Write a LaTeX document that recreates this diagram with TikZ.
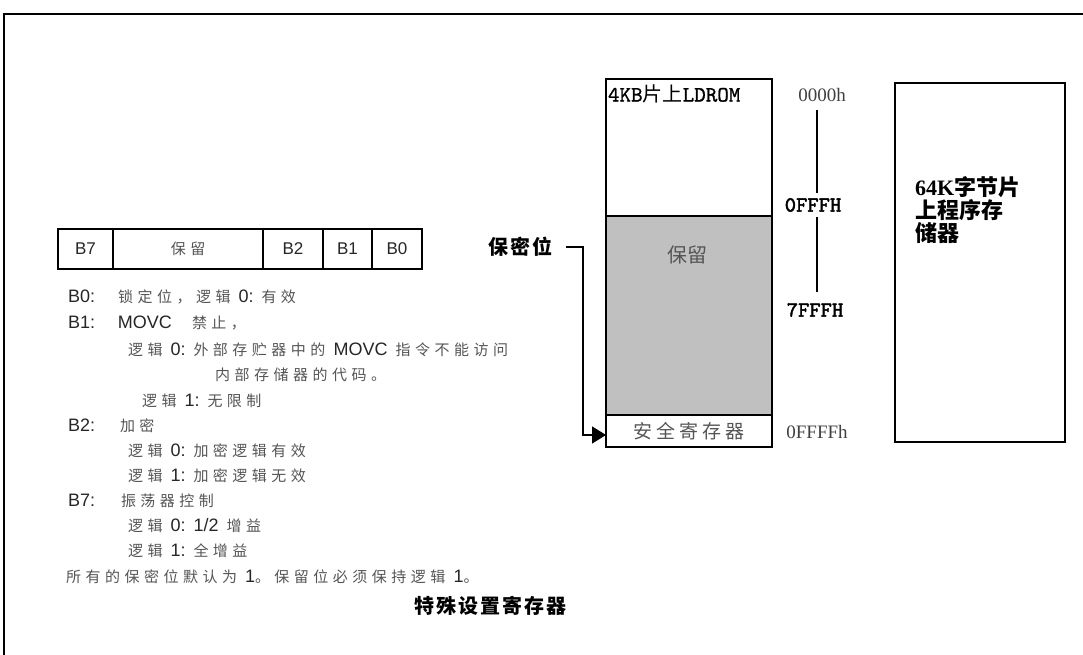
\documentclass[tikz,border=0pt]{standalone}
\usepackage{fontspec}
\setmainfont{Liberation Sans}
\newfontfamily\cjk[LetterSpace=30]{Noto Sans CJK SC}
\newfontfamily\cjkt{Noto Sans CJK SC}
\newfontfamily\cjkw[LetterSpace=10]{Noto Sans CJK SC}
\newfontfamily\cjks[LetterSpace=22]{Noto Sans CJK SC}
\newfontfamily\serf{Liberation Serif}
\newfontfamily\monob[FakeBold=2]{lmmono10-regular.otf}
\newfontfamily\monom[FakeBold=1]{lmmono10-regular.otf}
\usetikzlibrary{arrows.meta}
\definecolor{zhgray}{RGB}{85,85,85}
\definecolor{memgray}{RGB}{192,192,192}
\newcommand\zhc[1]{{\cjk\fontsize{15}{20}\selectfont\color{zhgray}#1}}
\newcommand\gap{\hspace{8pt}}
\begin{document}
\begin{tikzpicture}[x=1pt,y=-1pt,
  every node/.style={inner sep=0pt,outer sep=0pt},
  cell/.style={draw,line width=2.2pt,minimum height=40pt,anchor=north west,
    font=\fontsize{17}{17}\selectfont,text=black!85},
  item/.style={anchor=west,font=\fontsize{18}{20}\selectfont,text=black!85},
  mem/.style={draw,line width=1.5pt,anchor=north west},
  addrs/.style={font=\serf\fontsize{19}{19}\selectfont,text=black!75},
  addrm/.style={font=\monob\fontsize{21.5}{21.5}\selectfont,text=black},
  vline/.style={line width=1.5pt}]
\fill[white] (0,0) rectangle (1083,655);
\useasboundingbox (0,0) rectangle (1083,655);
% frame
\draw[line width=2pt] (1083,14) -- (4,14) -- (4,655);
% register
\node[cell,minimum width=55pt] (b7) at (58,229) {B7};
\node[cell,minimum width=150pt] (res) at (113,229) {\zhc{保留}};
\node[cell,minimum width=60pt] (b2) at (263,229) {B2};
\node[cell,minimum width=49pt] (b1) at (323,229) {B1};
\node[cell,minimum width=50pt] (b0) at (372,229) {B0};
% description
\node[item] (l1) at (68,297) {\makebox[50pt][l]{B0:}\zhc{锁定位，逻辑}\gap 0:\gap\zhc{有效}};
\node[item] (l2) at (68,323) {\makebox[50pt][l]{B1:}MOVC\hspace{20pt}\zhc{禁止，}};
\node[item] (l3) at (128,350) {\zhc{逻辑}\gap 0:\gap\zhc{外部存贮器中的}\gap MOVC\gap\zhc{指令不能访问}};
\node[item] (l4) at (215,375) {\zhc{内部存储器的代码。}};
\node[item] (l5) at (142,400.5) {\zhc{逻辑}\gap 1:\gap\zhc{无限制}};
\node[item] (l6) at (68,426) {\makebox[52pt][l]{B2:}\zhc{加密}};
\node[item] (l7) at (128,451) {\zhc{逻辑}\gap 0:\gap\zhc{加密逻辑有效}};
\node[item] (l8) at (128,476) {\zhc{逻辑}\gap 1:\gap\zhc{加密逻辑无效}};
\node[item] (l9) at (68,501) {\makebox[53pt][l]{B7:}\zhc{振荡器控制}};
\node[item] (l10) at (128,526) {\zhc{逻辑}\gap 0:\gap 1/2\gap\zhc{增益}};
\node[item] (l11) at (128,551) {\zhc{逻辑}\gap 1:\gap\zhc{全增益}};
\node[item] (l12) at (66,577) {\zhc{所有的保密位默认为}\gap 1\zhc{。保留位必须保持逻辑}\gap 1\zhc{。}};
\node[font=\cjkw\bfseries\fontsize{20}{20}\selectfont] (title) at (490,606) {特殊设置寄存器};
% memory map
\node[mem,fill=white,minimum width=166pt,minimum height=137pt] (ldrom) at (606,79) {};
\node[mem,fill=memgray,minimum width=166pt,minimum height=199pt] (resv) at (606,216) {};
\node[mem,fill=white,minimum width=166pt,minimum height=32pt,
  font=\cjks\fontsize{19}{19}\selectfont,text=zhgray] (sec) at (606,415) {安全寄存器};
\node[anchor=west,font=\monom\fontsize{22}{22}\selectfont] (ldt) at (608,94) {4KB{\cjkt\fontsize{20}{20}\selectfont 片上}LDROM};
\node[font=\cjkt\fontsize{20}{20}\selectfont,text=zhgray] (rest) at (687,255) {保留};
% addresses
\node[addrs] (a0) at (822,95) {0000h};
\node[addrm] (a1) at (813,205) {0FFFH};
\node[addrm] (a2) at (815,310) {7FFFH};
\node[addrs] (a3) at (817,432) {0FFFFh};
\coordinate (v0) at (817,110);
\coordinate (v1) at (817,193);
\coordinate (v2) at (817,217);
\coordinate (v3) at (817,292);
\draw[vline] (v0) -- (v1);
\draw[vline] (v2) -- (v3);
% program memory
\node[mem,minimum width=170pt,minimum height=359pt] (prog) at (895,83) {};
\node[anchor=north west,align=left,font=\cjkt\bfseries\fontsize{22}{23}\selectfont] (progt) at (915,177)
  {{\serf\bfseries 64K}字节片\\上程序存\\储器};
% security bits label
\node[font=\cjkw\bfseries\fontsize{20}{20}\selectfont] (bm) at (520,247) {保密位};
\draw[line width=1.5pt,-{Triangle[length=14pt,width=17pt]}]
  ([xshift=14pt]bm.east) -- ++(17,0) |- ([yshift=-4pt]sec.west);
\end{tikzpicture}
\end{document}
